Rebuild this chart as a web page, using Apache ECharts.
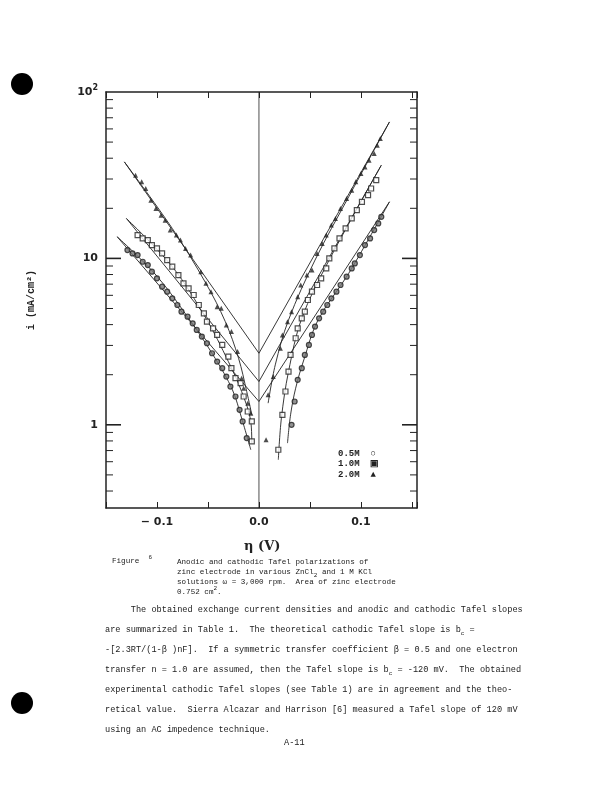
<!DOCTYPE html>
<html><head><meta charset="utf-8">
<script src="https://cdn.jsdelivr.net/npm/echarts@6/dist/echarts.min.js"></script>
<style>
body{margin:0;background:#fff;width:597px;height:789px;position:relative;overflow:hidden;font-family:"Liberation Mono",monospace;color:#222}
#c{position:absolute;left:0;top:0;width:597px;height:789px}
.t{position:absolute;white-space:pre;font-size:8.6px;line-height:10px}
.cap{position:absolute;white-space:pre;font-size:7.6px;line-height:10px}
.dot{position:absolute;width:22px;height:22px;border-radius:50%;background:#000}
sub,sup{font-size:6px;line-height:0}
</style></head><body>
<div id="c"></div>
<div class="dot" style="left:11px;top:73px"></div>
<div class="dot" style="left:11px;top:692px"></div>
<div class="cap" style="left:112px;top:556px">Figure  <sup>6</sup></div>
<div class="cap" style="left:177px;top:557px">Anodic and cathodic Tafel polarizations of
zinc electrode in various ZnCl<sub>2</sub> and 1 M KCl
solutions ω = 3,000 rpm.  Area of zinc electrode
0.752 cm<sup>2</sup>.</div>
<div class="t" style="left:105px;top:605px">     The obtained exchange current densities and anodic and cathodic Tafel slopes</div>
<div class="t" style="left:105px;top:625px">are summarized in Table 1.  The theoretical cathodic Tafel slope is b<sub>c</sub> =</div>
<div class="t" style="left:105px;top:645px">-[2.3RT/(1-β )nF].  If a symmetric transfer coefficient β = 0.5 and one electron</div>
<div class="t" style="left:105px;top:665px">transfer n = 1.0 are assumed, then the Tafel slope is b<sub>c</sub> = -120 mV.  The obtained</div>
<div class="t" style="left:105px;top:685px">experimental cathodic Tafel slopes (see Table 1) are in agreement and the theo-</div>
<div class="t" style="left:105px;top:705px">retical value.  Sierra Alcazar and Harrison [6] measured a Tafel slope of 120 mV</div>
<div class="t" style="left:105px;top:725px">using an AC impedence technique.</div>
<div class="t" style="left:284px;top:738px">A-11</div>
<script>
// eta (V), log10 i (mA/cm2)
var tri = [[-0.121,1.50],[-0.115,1.46],[-0.111,1.42],[-0.106,1.35],[-0.101,1.30],[-0.096,1.26],[-0.092,1.23],[-0.087,1.17],[-0.081,1.14],[-0.077,1.11],[-0.072,1.06],[-0.067,1.02],[-0.057,0.92],[-0.052,0.85],[-0.047,0.80],[-0.041,0.71],[-0.037,0.70],[-0.032,0.60],[-0.027,0.56],[-0.021,0.44],[-0.017,0.28],[-0.015,0.22],[-0.011,0.13],[-0.008,0.07],[0.007,-0.09],
  [0.009,0.18],[0.014,0.29],[0.021,0.46],[0.023,0.54],[0.028,0.62],[0.032,0.68],[0.038,0.77],[0.041,0.84],[0.047,0.90],[0.052,0.93],[0.057,1.03],[0.062,1.09],[0.066,1.14],[0.071,1.20],[0.075,1.24],[0.080,1.30],[0.086,1.36],[0.091,1.41],[0.095,1.46],[0.100,1.51],[0.104,1.55],[0.108,1.59],[0.113,1.63],[0.116,1.68],[0.119,1.72]];
var sq = [[-0.119,1.14],[-0.114,1.12],[-0.109,1.11],[-0.105,1.08],[-0.100,1.06],[-0.095,1.03],[-0.090,0.99],[-0.085,0.95],[-0.079,0.90],[-0.074,0.85],[-0.069,0.82],[-0.064,0.78],[-0.059,0.72],[-0.054,0.67],[-0.051,0.62],[-0.045,0.58],[-0.041,0.54],[-0.036,0.48],[-0.030,0.41],[-0.027,0.34],[-0.023,0.28],[-0.018,0.25],[-0.015,0.17],[-0.011,0.08],[-0.007,0.02],[-0.007,-0.10],
  [0.019,-0.15],[0.023,0.06],[0.026,0.20],[0.029,0.32],[0.031,0.42],[0.036,0.52],[0.038,0.58],[0.042,0.64],[0.045,0.68],[0.048,0.75],[0.052,0.80],[0.057,0.84],[0.061,0.88],[0.066,0.94],[0.069,1.00],[0.074,1.06],[0.079,1.12],[0.085,1.18],[0.091,1.24],[0.096,1.29],[0.101,1.34],[0.107,1.38],[0.110,1.42],[0.115,1.47]];
var cir = [[-0.129,1.05],[-0.124,1.03],[-0.119,1.02],[-0.114,0.98],[-0.109,0.96],[-0.105,0.92],[-0.100,0.88],[-0.095,0.83],[-0.090,0.80],[-0.085,0.76],[-0.080,0.72],[-0.076,0.68],[-0.070,0.65],[-0.065,0.61],[-0.061,0.57],[-0.056,0.53],[-0.051,0.49],[-0.046,0.43],[-0.041,0.38],[-0.036,0.34],[-0.032,0.29],[-0.028,0.23],[-0.023,0.17],[-0.019,0.09],[-0.016,0.02],[-0.012,-0.08],
  [0.032,0.00],[0.035,0.14],[0.038,0.27],[0.042,0.34],[0.045,0.42],[0.049,0.48],[0.052,0.54],[0.055,0.59],[0.059,0.64],[0.063,0.68],[0.067,0.72],[0.071,0.76],[0.076,0.80],[0.080,0.84],[0.086,0.89],[0.091,0.94],[0.094,0.97],[0.099,1.02],[0.104,1.08],[0.109,1.12],[0.113,1.17],[0.117,1.21],[0.120,1.25]];
var tafel20 = [[-0.132,1.58],[0,0.43],[0.128,1.82]];
var tafel10 = [[-0.130,1.24],[0,0.26],[0.120,1.56]];
var tafel05 = [[-0.139,1.13],[0,0.14],[0.128,1.34]];
var curves = [
  [[-0.139,1.13],[-0.101,0.90],[-0.069,0.64],[-0.043,0.40],[-0.026,0.21],[-0.017,0.04],[-0.008,-0.15]],
  [[0.028,-0.11],[0.031,0.06],[0.036,0.22],[0.044,0.39],[0.058,0.63],[0.088,0.91],[0.128,1.34]],
  [[-0.130,1.24],[-0.085,0.95],[-0.052,0.64],[-0.030,0.38],[-0.017,0.20],[-0.008,0.02],[-0.007,-0.11]],
  [[0.019,-0.21],[0.022,0.04],[0.029,0.32],[0.042,0.64],[0.068,0.98],[0.120,1.56]],
  [[-0.132,1.58],[-0.085,1.18],[-0.052,0.85],[-0.033,0.62],[-0.020,0.40],[-0.012,0.20],[-0.007,0.06]],
  [[0.009,0.13],[0.016,0.36],[0.029,0.63],[0.055,0.99],[0.088,1.37],[0.128,1.82]]
];
var majorTicks = [0, 1];
var minorTicks = [];
[-1,0,1].forEach(function(d){for(var k=2;k<10;k++){var v=d+Math.log10(k);if(v>-0.5&&v<2)minorTicks.push(v);}});

var chart = echarts.init(document.getElementById('c'));
var black = '#222';
var series = [];
function line(d, smooth){series.push({type:'line',data:d,smooth:smooth,symbol:'none',lineStyle:{color:black,width:0.9},silent:true,z:2});}
[tafel20,tafel10,tafel05].forEach(function(d){line(d,false);});
curves.forEach(function(d){line(d,0.35);});
series.push({type:'scatter',data:tri,symbol:'triangle',symbolSize:5,itemStyle:{color:black},z:3});
series.push({type:'scatter',data:sq,symbol:'rect',symbolSize:5,itemStyle:{color:'#fff',borderColor:black,borderWidth:1.2},z:3});
series.push({type:'scatter',data:cir,symbol:'circle',symbolSize:5,itemStyle:{color:'#777',borderColor:black,borderWidth:1.2},z:3});
// vertical zero line
series.push({type:'line',data:[[0,-0.5],[0,2]],symbol:'none',lineStyle:{color:black,width:0.8},z:1});
// log ticks on left and right frame
var tickData = minorTicks.map(function(v){return [v,7];}).concat(majorTicks.map(function(v){return [v,15];}));
series.push({type:'custom',data:tickData,z:4,
  renderItem:function(p,api){
    var a=api.coord([-0.15,api.value(0)]), b=api.coord([0.155,api.value(0)]), L=api.value(1);
    var w = L>10?1.6:1;
    return {type:'group',children:[
      {type:'line',shape:{x1:a[0],y1:a[1],x2:a[0]+L,y2:a[1]},style:{stroke:black,lineWidth:w}},
      {type:'line',shape:{x1:b[0],y1:b[1],x2:b[0]-L,y2:b[1]},style:{stroke:black,lineWidth:w}}]};
  }});

chart.setOption({
  animation:false,
  grid:{left:106,right:180,top:92,bottom:281},
  xAxis:[{type:'value',min:-0.15,max:0.155,interval:0.05,
    axisLine:{onZero:false,lineStyle:{color:black,width:1.5}},
    axisTick:{inside:true,length:6,lineStyle:{color:black}},
    splitLine:{show:false},
    axisLabel:{margin:9,fontFamily:'DejaVu Sans',fontSize:11,fontWeight:'bold',color:black,
      formatter:function(v){var r=Math.round(v*100)/100;if(r===-0.1)return '− 0.1';if(r===0)return '0.0';if(r===0.1)return '0.1';return '';}}},
    {type:'value',position:'top',min:-0.15,max:0.155,interval:0.05,
    axisLine:{show:true,onZero:false,lineStyle:{color:black,width:1.5}},axisTick:{inside:true,length:6,lineStyle:{color:black}},axisLabel:{show:false},splitLine:{show:false}}],
  yAxis:[{type:'value',min:-0.5,max:2,interval:0.5,
    axisLine:{onZero:false,lineStyle:{color:black,width:1.5}},
    axisTick:{show:false},
    splitLine:{show:false},
    axisLabel:{fontFamily:'DejaVu Sans',fontSize:11,fontWeight:'bold',color:black,margin:8,
      formatter:function(v){if(v===0)return '1';if(v===1)return '10';if(v===2)return '10{s|2}';return '';},
      rich:{s:{fontSize:8,verticalAlign:'top',fontWeight:'bold',color:black,padding:[0,0,8,0]}}},
    name:'i (mA/cm²)',nameLocation:'middle',nameGap:70,nameRotate:90,
    nameTextStyle:{fontFamily:'Liberation Mono',fontSize:10,fontWeight:'bold',color:black}},
    {type:'value',position:'right',min:-0.5,max:2,interval:0.5,
    axisLine:{show:true,onZero:false,lineStyle:{color:black,width:1.5}},axisTick:{show:false},axisLabel:{show:false},splitLine:{show:false}}],
  series:series,
  graphic:[
    {type:'text',left:244,top:540,style:{text:'η (V)',font:'bold 13px "DejaVu Serif"',fill:black}},
    {type:'text',left:338,top:448,style:{text:'0.5M  ○\n1.0M  ▣\n2.0M  ▲',font:'bold 9px "Liberation Mono"',fill:black,lineHeight:10.5}}
  ]
});
</script>
</body></html>
